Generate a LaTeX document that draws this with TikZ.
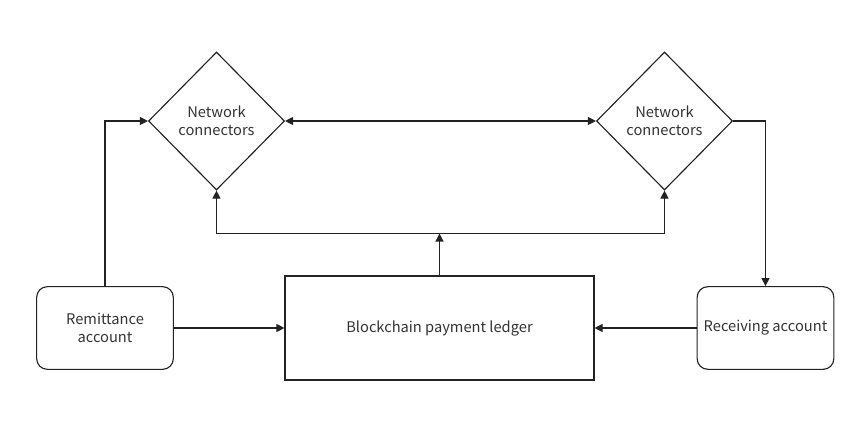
\documentclass[tikz,border=0pt]{standalone}
\usepackage{fontspec}
\setmainfont{Noto Sans CJK SC}
\usetikzlibrary{shapes.geometric,arrows.meta}
\definecolor{ln}{HTML}{222222}
\definecolor{tx}{HTML}{333333}
\begin{document}
\begin{tikzpicture}[x=0.75pt,y=-0.75pt,
  every node/.style={font=\fontsize{11pt}{13.75pt}\selectfont, text=tx, align=center, line width=0.85pt, draw=ln},
  acct/.style={rectangle, rounded corners=8pt, minimum width=102.5pt, minimum height=62pt, inner sep=0pt},
  ledger/.style={rectangle, minimum width=231.75pt, minimum height=78pt, inner sep=0pt},
  conn/.style={diamond, minimum width=102pt, minimum height=103.5pt, inner sep=0pt, aspect=1},
  link/.style={draw=ln, line width=0.85pt, -{Triangle[length=6pt,width=6pt]}},
  dlink/.style={draw=ln, line width=0.85pt, {Triangle[length=6pt,width=6pt]}-{Triangle[length=6pt,width=6pt]}}
]
\useasboundingbox (0,0) rectangle (865,433);
\node[conn] (nc1) at (216.5,121) {Network\\connectors};
\node[conn] (nc2) at (664.5,121) {Network\\connectors};
\node[acct] (rem) at (105,328) {Remittance\\account};
\node[ledger] (led) at (439.5,328) {Blockchain payment ledger};
\node[acct] (rec) at (765.5,328) {Receiving account};
\coordinate (bus) at (439.5,233.5);
\draw[link] (rem.north) |- (nc1.west);
\draw[dlink] (nc1.east) -- (nc2.west);
\draw[link] (nc2.east) -| (rec.north);
\draw[link] (rem.east) -- (led.west);
\draw[link] (rec.west) -- (led.east);
\draw[link] (led.north) -- (bus);
\draw[link] (bus) -| (nc1.south);
\draw[link] (bus) -| (nc2.south);
\end{tikzpicture}
\end{document}
